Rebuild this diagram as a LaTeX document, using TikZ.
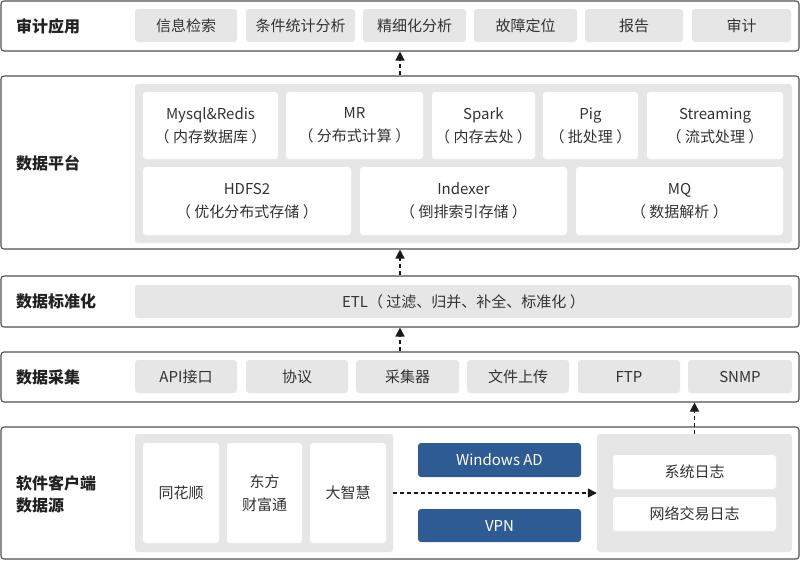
\documentclass[tikz,border=0pt]{standalone}
\usepackage{fontspec}
\setmainfont{Noto Sans CJK SC}
\usetikzlibrary{arrows.meta}
\definecolor{bordc}{HTML}{505050}
\definecolor{grayc}{HTML}{E6E6E6}
\definecolor{bluec}{HTML}{2E5B94}
\definecolor{txtc}{HTML}{333333}
\definecolor{labc}{HTML}{222222}
\tikzset{
  layer/.style={draw=bordc, line width=1.1pt, rounded corners=3pt, fill=white, inner sep=0pt, minimum width=798},
  gbox/.style={fill=grayc, rounded corners=3pt, inner sep=0pt, text=txtc, font=\fontsize{15}{23}\selectfont, align=center},
  wbox/.style={fill=white, rounded corners=3pt, inner sep=0pt, text=txtc, font=\fontsize{15}{23}\selectfont, align=center},
  bbox/.style={fill=bluec, rounded corners=3pt, inner sep=0pt, text=white, font=\fontsize{15}{23}\selectfont, align=center},
  lab/.style={anchor=west, inner sep=0pt, text=labc, font=\bfseries\fontsize{16}{22}\selectfont, align=left},
  dar/.style={draw=black!90, line width=1.4pt, dash pattern=on 4pt off 3pt, -{Triangle[length=9pt,width=9pt]}}
}
\begin{document}
\begin{tikzpicture}[x=1pt,y=-1pt]
\useasboundingbox (0,0) rectangle (800,560);
% layers
\node[layer, minimum height=50] (l1) at (400,26) {};
\node[layer, minimum height=173] (l2) at (400,162.5) {};
\node[layer, minimum height=51] (l3) at (400,301.5) {};
\node[layer, minimum height=50] (l4) at (400,377) {};
\node[layer, minimum height=132] (l5) at (400,493) {};
% labels
\node[lab] (t1) at (16,26) {审计应用};
\node[lab] (t2) at (16,163) {数据平台};
\node[lab] (t3) at (16,301.5) {数据标准化};
\node[lab] (t4) at (16,377) {数据采集};
\node[lab] (t5) at (16,494) {软件客户端\\数据源};
% layer 1
\node[gbox, minimum width=102, minimum height=33] (a1) at (186,25.5) {信息检索};
\node[gbox, minimum width=109, minimum height=33] (a2) at (300.5,25.5) {条件统计分析};
\node[gbox, minimum width=103, minimum height=33] (a3) at (414.5,25.5) {精细化分析};
\node[gbox, minimum width=103, minimum height=33] (a4) at (525.5,25.5) {故障定位};
\node[gbox, minimum width=98, minimum height=33] (a5) at (634,25.5) {报告};
\node[gbox, minimum width=99, minimum height=33] (a6) at (741.5,25.5) {审计};
% layer 2
\node[gbox, minimum width=657, minimum height=159] (pc) at (463.5,163.5) {};
\node[wbox, minimum width=135, minimum height=67] (p1) at (210.5,125.5) {Mysql\&Redis\\（ 内存数据库 ）};
\node[wbox, minimum width=137, minimum height=67] (p2) at (354.5,125.5) {MR\\（ 分布式计算 ）};
\node[wbox, minimum width=103, minimum height=67] (p3) at (483.5,125.5) {Spark\\（ 内存去处 ）};
\node[wbox, minimum width=95, minimum height=67] (p4) at (590.5,125.5) {Pig\\（ 批处理 ）};
\node[wbox, minimum width=136, minimum height=67] (p5) at (715,125.5) {Streaming\\（ 流式处理 ）};
\node[wbox, minimum width=208, minimum height=68] (p6) at (247,201) {HDFS2\\（ 优化分布式存储 ）};
\node[wbox, minimum width=207, minimum height=68] (p7) at (463.5,201) {Indexer\\（ 倒排索引存储 ）};
\node[wbox, minimum width=207, minimum height=68] (p8) at (679.5,201) {MQ\\（ 数据解析 ）};
% layer 3
\node[gbox, minimum width=657, minimum height=33] (etl) at (463.5,301.5) {ETL（ 过滤、归并、补全、标准化 ）};
% layer 4
\node[gbox, minimum width=102, minimum height=33] (c1) at (186,376.5) {API接口};
\node[gbox, minimum width=102, minimum height=33] (c2) at (297,376.5) {协议};
\node[gbox, minimum width=103, minimum height=33] (c3) at (407.5,376.5) {采集器};
\node[gbox, minimum width=102, minimum height=33] (c4) at (518,376.5) {文件上传};
\node[gbox, minimum width=102, minimum height=33] (c5) at (629,376.5) {FTP};
\node[gbox, minimum width=104, minimum height=33] (c6) at (740,376.5) {SNMP};
% layer 5
\node[gbox, minimum width=258, minimum height=118] (lc) at (264,493) {};
\node[wbox, minimum width=76, minimum height=100] (s1) at (181,493) {同花顺};
\node[wbox, minimum width=75, minimum height=100] (s2) at (264.5,493) {东方\\财富通};
\node[wbox, minimum width=76, minimum height=100] (s3) at (348,493) {大智慧};
\node[bbox, minimum width=163, minimum height=34] (w1) at (499.5,460) {Windows AD};
\node[bbox, minimum width=163, minimum height=33] (w2) at (499.5,525.5) {VPN};
\node[gbox, minimum width=195, minimum height=118] (rc) at (694.5,493) {};
\node[wbox, minimum width=163, minimum height=34] (r1) at (694.5,472) {系统日志};
\node[wbox, minimum width=163, minimum height=34] (r2) at (694.5,514) {网络交易日志};
% arrows
\draw[dar] (l2.north) -- (l1.south);
\draw[dar] (l3.north) -- (l2.south);
\draw[dar] (l4.north) -- (l3.south);
\draw[dar] (rc.north) -- (rc.north |- l4.south);
\draw[dar] (lc.east) -- (rc.west);
\end{tikzpicture}
\end{document}
